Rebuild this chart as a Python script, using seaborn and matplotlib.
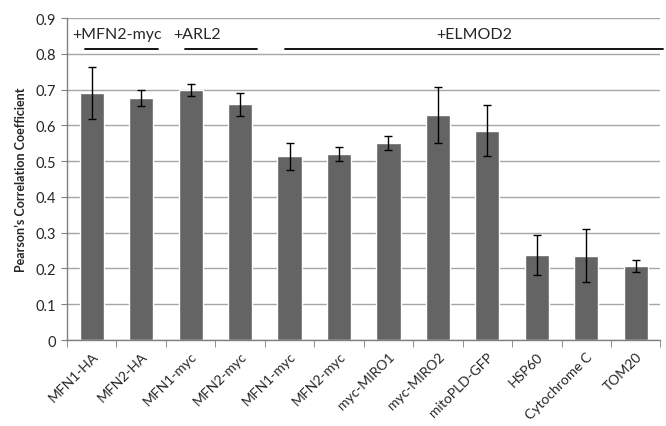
import numpy as np
import pandas as pd
import matplotlib
matplotlib.use("Agg")
import matplotlib.pyplot as plt
import seaborn as sns
from matplotlib.ticker import FixedLocator

labels = ["MFN1-HA", "MFN2-HA", "MFN1-myc", "MFN2-myc", "MFN1-myc", "MFN2-myc",
          "myc-MIRO1", "myc-MIRO2", "mitoPLD-GFP", "HSP60", "Cytochrome C", "TOM20"]
values = [0.690, 0.676, 0.698, 0.659, 0.513, 0.520, 0.551, 0.630, 0.585, 0.238, 0.236, 0.207]
errors = [0.072, 0.022, 0.017, 0.032, 0.037, 0.020, 0.019, 0.078, 0.071, 0.056, 0.075, 0.018]
y_ticks = [0, 0.1, 0.2, 0.3, 0.4, 0.5, 0.6, 0.7, 0.8, 0.9]
y_tick_labels = ["0", "0.1", "0.2", "0.3", "0.4", "0.5", "0.6", "0.7", "0.8", "0.9"]

groups = ["+MFN2-myc", "+ARL2", "+ELMOD2"]
group_spans = [(-0.14, 1.34), (1.89, 3.35), (3.91, 11.55)]

sns.set_style("white")
plt.rcParams["font.family"] = ["Lato", "DejaVu Sans"]

df = pd.DataFrame({"pos": range(len(labels)), "value": values})

fig = plt.figure(figsize=(6.66, 4.27), dpi=100)
ax = fig.add_axes([0.1006, 0.2014, 0.891, 0.7541])

sns.barplot(data=df, x="pos", y="value", color="#646464", saturation=1,
            width=0.49, errorbar=None, ax=ax, zorder=2)
ax.errorbar(df["pos"], df["value"], yerr=errors, fmt="none", ecolor="black",
            elinewidth=1.0, capsize=3, capthick=1.0, zorder=3)

ax.set_xlim(-0.5, len(labels) - 0.5)
ax.set_ylim(0, 0.9)
ax.set_yticks(y_ticks)
ax.set_yticklabels(y_tick_labels, fontsize=10.5)
ax.yaxis.grid(True, color="#a6a6a6", linewidth=1.0, zorder=0)
ax.set_axisbelow(True)

ax.set_xticks(df["pos"])
ax.set_xticklabels(labels, rotation=45, ha="right", rotation_mode="anchor", fontsize=10)
ax.xaxis.set_minor_locator(FixedLocator(np.arange(-0.5, len(labels), 1.0)))
ax.tick_params(axis="x", which="major", length=0, pad=7)
ax.tick_params(axis="x", which="minor", length=5, color="#808080", direction="out", bottom=True)
ax.tick_params(axis="y", length=4, color="#808080", direction="out", left=True, pad=4)

for s in ["top", "right"]:
    ax.spines[s].set_visible(False)
for s in ["left", "bottom"]:
    ax.spines[s].set_color("#808080")
    ax.spines[s].set_linewidth(1.0)

ax.set_xlabel("")
ax.set_ylabel("Pearson\u2019s Correlation Coefficient", fontsize=9, fontweight="bold", labelpad=6)

for name, (x0, x1) in zip(groups, group_spans):
    ax.plot([x0, x1], [0.812, 0.812], color="black", linewidth=1.3, clip_on=False, zorder=4)
    if name == "+ELMOD2":
        ax.text((x0 + x1) / 2, 0.855, name, ha="center", va="center", fontsize=11.5)
    else:
        ax.text(x0 - 0.25, 0.855, name, ha="left", va="center", fontsize=11.5)

fig.savefig("out.png", dpi=100)
